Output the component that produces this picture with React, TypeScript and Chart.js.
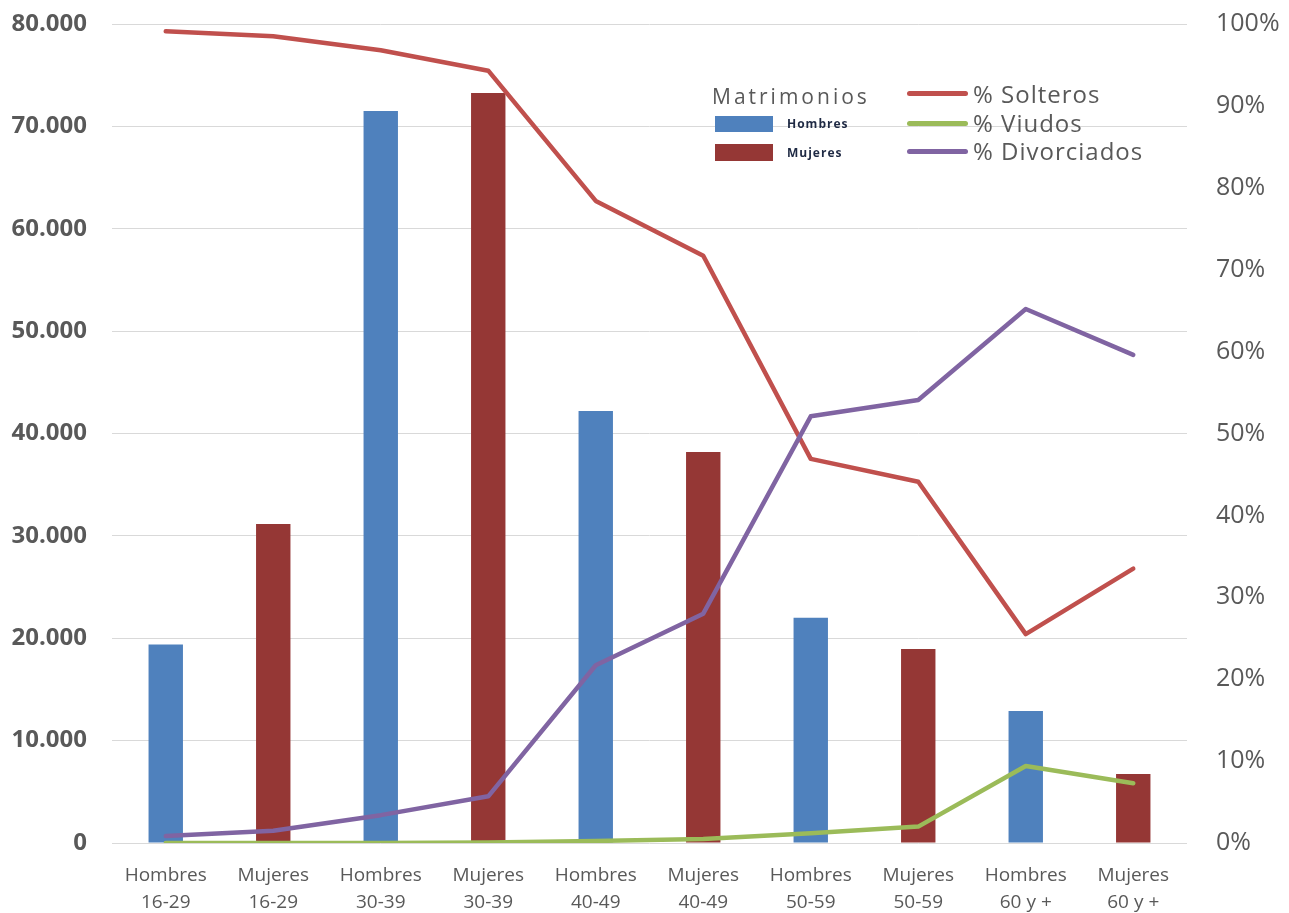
import React, { useEffect, useRef } from "react";
import { Chart, registerables } from "chart.js";

Chart.register(...registerables);

const categories: string[][] = [
  ["Hombres", "16-29"], ["Mujeres", "16-29"],
  ["Hombres", "30-39"], ["Mujeres", "30-39"],
  ["Hombres", "40-49"], ["Mujeres", "40-49"],
  ["Hombres", "50-59"], ["Mujeres", "50-59"],
  ["Hombres", "60 y +"], ["Mujeres", "60 y +"],
];

const matrimoniosHombres = [19400, 71500, 42200, 22000, 12900];
const matrimoniosMujeres = [31150, 73250, 38200, 18950, 6750];

const pctSolteros = [99.1, 98.5, 96.8, 94.3, 78.4, 71.7, 46.9, 44.1, 25.5, 33.5];
const pctViudos = [0, 0, 0, 0.05, 0.25, 0.5, 1.2, 2.0, 9.4, 7.3];
const pctDivorciados = [0.85, 1.5, 3.4, 5.7, 21.7, 28.0, 52.1, 54.1, 65.2, 59.6];

const leftTicks = { min: 0, max: 80000, step: 10000 };
const rightTicks = { min: 0, max: 100, step: 10 };

const BLUE = "#4F81BD";
const DARKRED = "#953735";
const RED = "#C0504D";
const GREEN = "#9BBB59";
const PURPLE = "#8064A2";
const GRAY_TEXT = "#595959";
const GRID = "#D9D9D9";

const fmtThousands = (v: number) =>
  String(Math.round(v)).replace(/\B(?=(\d{3})+(?!\d))/g, ".");

const hombresSeries = categories.map((_, i) => (i % 2 === 0 ? matrimoniosHombres[i / 2] : null));
const mujeresSeries = categories.map((_, i) => (i % 2 === 1 ? matrimoniosMujeres[(i - 1) / 2] : null));

export default function App() {
  const ref = useRef<HTMLCanvasElement | null>(null);

  useEffect(() => {
    if (!ref.current) return;
    const lineCommon = {
      type: "line" as const,
      yAxisID: "y1",
      borderWidth: 4.5,
      pointRadius: 0,
      tension: 0,
      borderJoinStyle: "round" as const,
      borderCapStyle: "round" as const,
      fill: false,
    };
    const chart = new Chart(ref.current, {
      type: "bar",
      data: {
        labels: categories,
        datasets: [
          { ...lineCommon, label: "% Divorciados", data: pctDivorciados, borderColor: PURPLE, backgroundColor: PURPLE, order: 0 },
          { ...lineCommon, label: "% Viudos", data: pctViudos, borderColor: GREEN, backgroundColor: GREEN, order: 1 },
          { ...lineCommon, label: "% Solteros", data: pctSolteros, borderColor: RED, backgroundColor: RED, order: 2 },
          {
            type: "bar", label: "Hombres", data: hombresSeries as any, backgroundColor: BLUE,
            yAxisID: "y", grouped: false, categoryPercentage: 1, barPercentage: 0.32, order: 3,
          },
          {
            type: "bar", label: "Mujeres", data: mujeresSeries as any, backgroundColor: DARKRED,
            yAxisID: "y", grouped: false, categoryPercentage: 1, barPercentage: 0.32, order: 3,
          },
        ] as any,
      },
      options: {
        responsive: false,
        animation: false,
        layout: { padding: { top: 24, left: 0, right: 0, bottom: 0 } },
        plugins: { legend: { display: false }, tooltip: { enabled: false } },
        scales: {
          x: {
            grid: { display: false, drawTicks: false },
            border: { display: false },
            ticks: {
              color: GRAY_TEXT,
              padding: 19,
              maxRotation: 0,
              autoSkip: false,
              font: { family: "'Open Sans', sans-serif", size: 19, lineHeight: 1.42 },
            },
            afterFit: (s: any) => { s.height = 70; },
          },
          y: {
            position: "left",
            min: leftTicks.min,
            max: leftTicks.max,
            grid: { color: GRID, lineWidth: 1, drawTicks: false },
            border: { display: false },
            ticks: {
              stepSize: leftTicks.step,
              color: GRAY_TEXT,
              padding: 25,
              font: { family: "'Open Sans', sans-serif", size: 24, weight: "bold" },
              callback: (v: any) => fmtThousands(Number(v)),
            },
            afterFit: (s: any) => { s.width = 112; s.paddingTop = 0; s.paddingBottom = 0; },
          },
          y1: {
            position: "right",
            min: rightTicks.min,
            max: rightTicks.max,
            grid: { display: false, drawTicks: false },
            border: { display: false },
            ticks: {
              stepSize: rightTicks.step,
              color: GRAY_TEXT,
              padding: 29,
              font: { family: "'Open Sans', sans-serif", size: 25 },
              callback: (v: any) => `${v}%`,
            },
            afterFit: (s: any) => { s.width = 102; s.paddingTop = 0; s.paddingBottom = 0; },
          },
        },
      } as any,
    });
    return () => chart.destroy();
  }, []);

  const legendText: React.CSSProperties = {
    position: "absolute",
    fontFamily: "'Open Sans', sans-serif",
    color: GRAY_TEXT,
    whiteSpace: "nowrap",
  };
  const bigText: React.CSSProperties = { ...legendText, fontSize: 24, lineHeight: "24px", letterSpacing: "1px" };
  const smallText: React.CSSProperties = {
    ...legendText, fontSize: 12, lineHeight: "12px", fontWeight: 700, color: "#1F2A44", letterSpacing: "1px",
  };
  const lineSwatch = (color: string, top: number): React.CSSProperties => ({
    position: "absolute", left: 907, top: top - 2.5, width: 61, height: 5, borderRadius: 3, background: color,
  });

  return (
    <div style={{ position: "absolute", left: 0, top: 0, width: 1289, height: 913, background: "#fff" }}>
      <canvas ref={ref} width={1289} height={913} style={{ display: "block" }} />
      <div style={{ ...legendText, left: 712, top: 86, fontSize: 21, lineHeight: "21px", letterSpacing: "3px" }}>Matrimonios</div>
      <div style={{ position: "absolute", left: 715, top: 116, width: 58, height: 16, background: BLUE }} />
      <div style={{ ...smallText, left: 787, top: 118 }}>Hombres</div>
      <div style={{ position: "absolute", left: 715, top: 144, width: 58, height: 17, background: DARKRED }} />
      <div style={{ ...smallText, left: 787, top: 147 }}>Mujeres</div>
      <div style={lineSwatch(RED, 93)} />
      <div style={{ ...bigText, left: 973, top: 82 }}>% Solteros</div>
      <div style={lineSwatch(GREEN, 123)} />
      <div style={{ ...bigText, left: 973, top: 111 }}>% Viudos</div>
      <div style={lineSwatch(PURPLE, 151)} />
      <div style={{ ...bigText, left: 973, top: 139 }}>% Divorciados</div>
    </div>
  );
}
